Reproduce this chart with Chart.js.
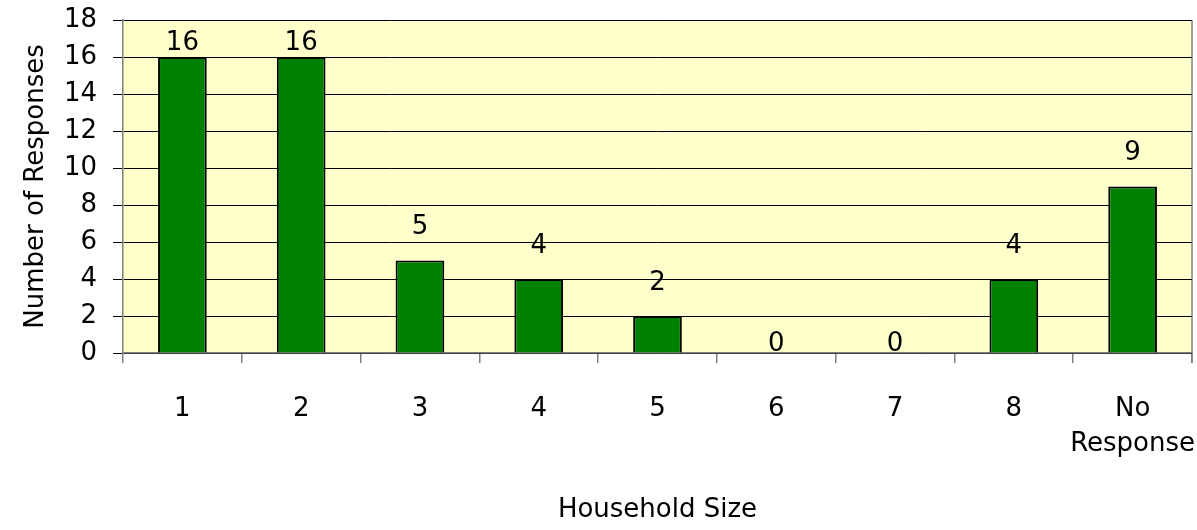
<!DOCTYPE html>
<html>
<head>
<meta charset="utf-8">
<script src="https://cdn.jsdelivr.net/npm/chart.js@4/dist/chart.umd.min.js"></script>
<style>
  html, body { margin: 0; padding: 0; background: #fff; }
  #wrap { width: 1197px; height: 530px; }
</style>
</head>
<body>
<div id="wrap"><canvas id="myChart"></canvas></div>
<script>
const householdSizes = ["1", "2", "3", "4", "5", "6", "7", "8", ["No", "Response"]];
const responseCounts = [16, 16, 5, 4, 2, 0, 0, 4, 9];

const FONT = "'Comic Sans MS', 'DejaVu Sans', sans-serif";
const SIZE = 26;

// yellow plot background plus the grey frame on the right side
const plotBackground = {
  id: 'plotBackground',
  beforeDraw(chart) {
    const { ctx, chartArea: a } = chart;
    ctx.save();
    ctx.fillStyle = '#FFFFCC';
    ctx.fillRect(a.left, a.top, a.right - a.left, a.bottom - a.top);
    ctx.strokeStyle = '#808080';
    ctx.lineWidth = 1.5;
    ctx.beginPath();
    ctx.moveTo(a.right, a.top);
    ctx.lineTo(a.right, a.bottom + 10);
    ctx.stroke();
    ctx.restore();
  }
};

// value labels above each bar
const barLabels = {
  id: 'barLabels',
  afterDatasetsDraw(chart) {
    const { ctx, chartArea: a } = chart;
    const meta = chart.getDatasetMeta(0);
    ctx.save();
    ctx.font = SIZE + 'px ' + FONT;
    ctx.fillStyle = '#000';
    ctx.textAlign = 'center';
    ctx.textBaseline = 'middle';
    meta.data.forEach((bar, i) => {
      const v = responseCounts[i];
      let y = v === 0 ? bar.y - 9 : bar.y - 33;
      y = Math.max(y, a.top + 23);
      ctx.fillText(String(v), bar.x, y);
    });
    ctx.restore();
  }
};

new Chart(document.getElementById('myChart'), {
  type: 'bar',
  data: {
    labels: householdSizes,
    datasets: [{
      data: responseCounts,
      backgroundColor: '#008000',
      borderColor: '#000',
      borderWidth: 2,
      categoryPercentage: 1,
      barPercentage: 0.41
    }]
  },
  options: {
    responsive: true,
    maintainAspectRatio: false,
    animation: false,
    layout: { padding: { top: 20, right: 5, left: 0, bottom: 0 } },
    plugins: { legend: { display: false }, tooltip: { enabled: false } },
    scales: {
      x: {
        afterFit(scale) {
          scale.height = 177;
          scale.paddingLeft = 0;
          scale.paddingRight = 0;
        },
        grid: { drawOnChartArea: false, color: '#808080', tickLength: 10, lineWidth: 1.5 },
        border: { color: '#808080', width: 1.5 },
        ticks: { color: '#000', font: { family: FONT, size: SIZE, lineHeight: 1.35 }, padding: 29, maxRotation: 0, autoSkip: false },
        title: { display: true, text: 'Household Size', color: '#000', font: { family: FONT, size: SIZE }, padding: { top: 0, bottom: 4 } }
      },
      y: {
        min: 0,
        max: 18,
        afterFit(scale) {
          scale.width = 123;
          scale.paddingTop = 0;
          scale.paddingBottom = 0;
        },
        grid: { color: '#000', lineWidth: 1, tickLength: 10 },
        border: { color: '#808080', width: 1.5 },
        ticks: { stepSize: 2, color: '#000', font: { family: FONT, size: SIZE }, padding: 16 },
        title: { display: true, text: 'Number of Responses', color: '#000', font: { family: FONT, size: SIZE }, padding: { top: 21, bottom: 0 } }
      }
    }
  },
  plugins: [plotBackground, barLabels]
});
</script>
</body>
</html>
